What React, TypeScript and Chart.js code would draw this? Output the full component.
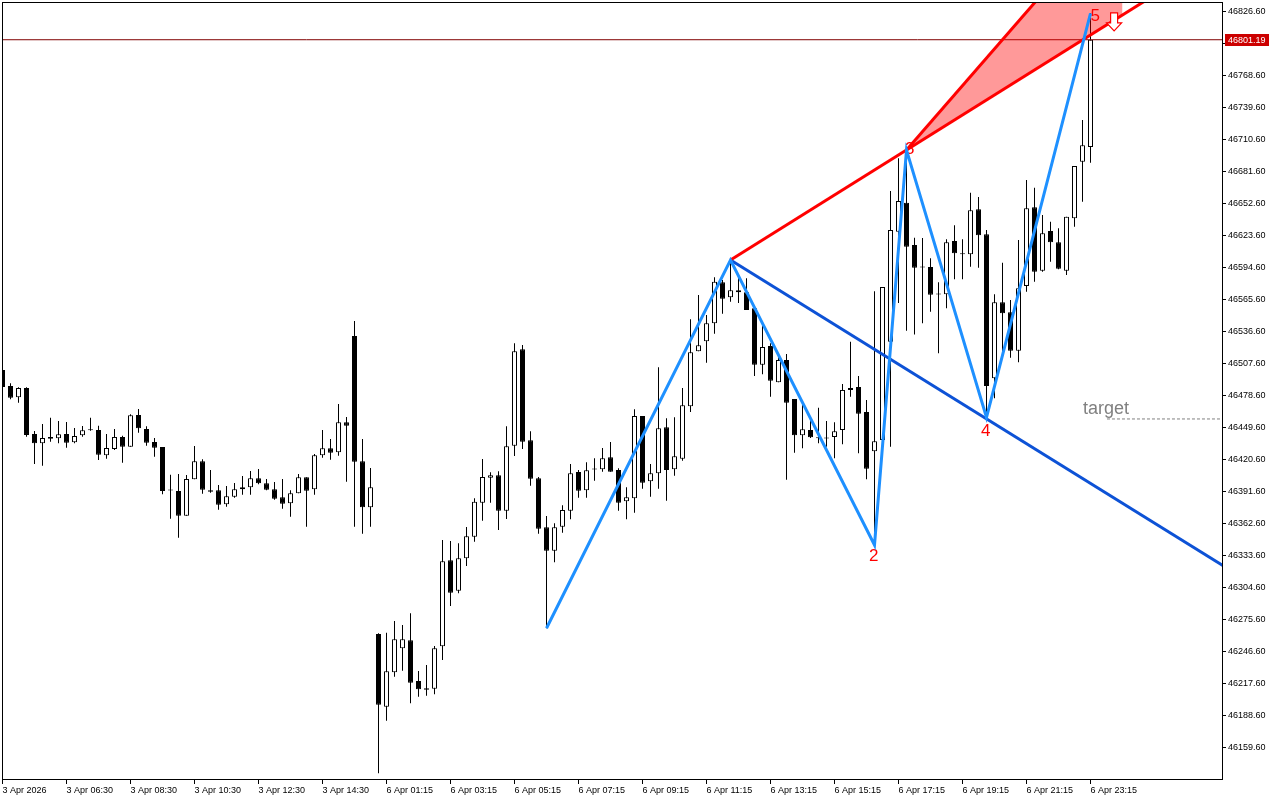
import { useEffect, useRef } from 'react';
import { Chart, registerables } from 'chart.js';

Chart.register(...registerables);

// ---- candle data (15-minute candles, index 0 = 3 Apr 04:30) ----
const opens = [
  46501.9, 46487.4, 46477.2, 46485.6, 46443.9, 46435.5, 46441.2, 46440.0, 46443.9, 46436.4,
  46442.7, 46447.5, 46447.5, 46424.6, 46430.3, 46441.2, 46432.4, 46461.1, 46448.4, 46436.6,
  46432.1, 46392.9, 46392.2, 46369.8, 46402.8, 46419.1, 46392.9, 46392.9, 46380.2, 46387.1,
  46393.8, 46395.6, 46403.7, 46399.2, 46393.8, 46386.5, 46381.1, 46390.2, 46404.6, 46393.8,
  46424.6, 46430.9, 46427.3, 46454.5, 46532.7, 46419.1, 46377.5, 46262.6, 46196.7, 46227.9,
  46249.7, 46256.9, 46220.0, 46213.4, 46213.1, 46251.5, 46329.4, 46301.9, 46331.2, 46350.8,
  46381.6, 46404.3, 46406.5, 46374.4, 46433.3, 46520.6, 46438.2, 46403.7, 46359.3, 46338.1,
  46359.9, 46374.4, 46409.5, 46392.9, 46411.9, 46411.9, 46422.8, 46411.3, 46382.9, 46385.6,
  46460.2, 46401.0, 46408.3, 46450.0, 46411.9, 46421.5, 46469.0, 46518.8, 46527.9, 46544.2,
  46581.4, 46567.8, 46574.1, 46572.3, 46557.8, 46506.7, 46523.6, 46490.7, 46511.0, 46475.6,
  46442.7, 46447.5, 46440.9, 46440.0, 46441.2, 46447.5, 46483.8, 46486.5, 46463.8, 46428.2,
  46438.5, 46527.5, 46627.2, 46653.5, 46615.2, 46595.2, 46595.2, 46570.5, 46570.5, 46618.8,
  46607.0, 46606.7, 46647.5, 46624.9, 46494.4, 46563.2, 46554.2, 46519.4, 46578.0, 46649.3,
  46591.9, 46627.9, 46617.6, 46591.9, 46639.4, 46690.7, 46704.0,
];
const highs = [
  46503.7, 46489.8, 46486.2, 46486.2, 46446.6, 46453.0, 46458.7, 46455.7, 46454.8, 46449.3,
  46451.1, 46458.7, 46451.4, 46443.9, 46448.4, 46442.4, 46461.7, 46466.5, 46450.9, 46440.3,
  46432.1, 46407.0, 46407.6, 46406.7, 46433.0, 46421.0, 46411.3, 46397.7, 46396.8, 46399.5,
  46405.8, 46410.4, 46412.2, 46403.1, 46400.4, 46403.1, 46392.9, 46407.6, 46404.6, 46425.8,
  46447.5, 46439.4, 46471.1, 46459.3, 46546.3, 46439.4, 46413.1, 46263.3, 46263.8, 46274.4,
  46270.8, 46281.4, 46229.1, 46234.5, 46251.8, 46347.8, 46346.9, 46344.8, 46359.6, 46385.6,
  46421.2, 46409.2, 46410.1, 46450.9, 46526.1, 46524.5, 46446.3, 46404.9, 46369.6, 46363.0,
  46379.3, 46416.7, 46411.3, 46418.2, 46421.9, 46431.2, 46436.6, 46412.8, 46395.6, 46466.3,
  46460.2, 46416.7, 46504.3, 46458.1, 46459.0, 46485.6, 46547.8, 46569.9, 46551.7, 46585.9,
  46583.5, 46601.6, 46586.4, 46585.0, 46557.8, 46541.8, 46526.1, 46513.9, 46516.4, 46475.6,
  46471.1, 46456.6, 46467.7, 46455.7, 46454.5, 46489.2, 46527.5, 46496.5, 46474.7, 46573.2,
  46577.1, 46664.1, 46693.7, 46701.3, 46621.8, 46621.5, 46603.1, 46581.4, 46620.3, 46633.0,
  46620.3, 46662.6, 46658.7, 46628.8, 46570.5, 46599.1, 46565.3, 46619.7, 46674.1, 46667.1,
  46642.4, 46636.3, 46630.3, 46640.8, 46686.8, 46728.5, 46825.2,
];
const lows = [
  46483.8, 46475.3, 46472.3, 46441.4, 46416.7, 46415.2, 46436.9, 46435.5, 46431.5, 46435.5,
  46441.4, 46446.9, 46420.3, 46421.5, 46429.4, 46417.9, 46432.4, 46445.1, 46433.3, 46423.3,
  46389.2, 46367.1, 46349.9, 46369.8, 46402.8, 46389.8, 46390.7, 46375.3, 46378.0, 46386.2,
  46388.9, 46388.9, 46398.3, 46392.9, 46384.3, 46376.2, 46368.9, 46390.2, 46359.9, 46388.9,
  46422.4, 46420.6, 46424.2, 46400.7, 46359.9, 46353.5, 46359.9, 46136.4, 46184.1, 46223.9,
  46229.4, 46199.8, 46205.8, 46206.7, 46208.0, 46239.1, 46288.0, 46299.5, 46324.3, 46346.3,
  46365.3, 46381.6, 46356.9, 46366.9, 46423.9, 46430.3, 46397.0, 46353.5, 46267.8, 46327.6,
  46354.4, 46366.6, 46386.2, 46386.2, 46401.6, 46409.7, 46409.7, 46374.4, 46366.6, 46372.6,
  46394.3, 46387.1, 46394.3, 46383.4, 46406.1, 46419.7, 46463.8, 46518.8, 46508.5, 46534.8,
  46552.9, 46563.8, 46562.6, 46556.3, 46496.5, 46498.0, 46477.7, 46490.7, 46402.5, 46426.9,
  46430.9, 46440.3, 46435.5, 46432.4, 46421.9, 46434.6, 46477.7, 46426.4, 46402.8, 46343.3,
  46438.5, 46432.4, 46562.6, 46537.5, 46534.1, 46544.2, 46554.7, 46517.0, 46557.8, 46584.1,
  46584.1, 46595.5, 46594.6, 46459.6, 46476.2, 46512.5, 46513.0, 46508.9, 46572.8, 46581.9,
  46591.0, 46600.0, 46593.2, 46588.0, 46631.8, 46654.4, 46689.8,
];
const closes = [
  46486.5, 46476.8, 46485.6, 46443.0, 46435.5, 46440.3, 46439.6, 46443.6, 46436.0, 46442.1,
  46447.2, 46447.2, 46425.1, 46431.2, 46441.2, 46432.4, 46460.8, 46449.1, 46436.0, 46431.5,
  46392.2, 46392.6, 46369.8, 46403.1, 46419.1, 46393.4, 46391.6, 46379.8, 46387.4, 46393.8,
  46395.6, 46403.7, 46399.2, 46393.4, 46385.3, 46380.7, 46390.2, 46404.6, 46392.5, 46424.6,
  46430.9, 46426.9, 46454.5, 46451.4, 46418.8, 46377.5, 46395.6, 46198.6, 46228.8, 46257.8,
  46257.8, 46218.5, 46212.5, 46212.2, 46249.7, 46328.5, 46300.1, 46331.2, 46351.2, 46382.5,
  46404.9, 46406.5, 46374.4, 46432.7, 46518.8, 46436.9, 46403.4, 46358.1, 46338.1, 46359.3,
  46375.0, 46408.3, 46392.5, 46411.0, 46411.7, 46421.9, 46409.7, 46381.6, 46386.5, 46460.2,
  46399.8, 46408.3, 46449.1, 46411.3, 46423.7, 46469.9, 46517.9, 46524.3, 46544.2, 46581.9,
  46566.5, 46574.1, 46572.3, 46556.3, 46506.7, 46522.7, 46492.2, 46511.0, 46472.3, 46442.7,
  46448.1, 46440.9, 46440.0, 46439.8, 46446.3, 46483.8, 46485.6, 46462.3, 46412.4, 46437.3,
  46577.1, 46628.8, 46655.0, 46613.6, 46594.6, 46594.8, 46570.1, 46570.2, 46617.6, 46607.7,
  46606.8, 46646.6, 46624.0, 46487.4, 46563.2, 46553.3, 46519.4, 46575.9, 46648.4, 46591.0,
  46625.8, 46617.6, 46593.7, 46640.8, 46686.8, 46705.5, 46801.19,
];

// ---- axis ticks ----
const xTickIdx = [0, 8, 16, 24, 32, 40, 48, 56, 64, 72, 80, 88, 96, 104, 112, 120, 128, 136];
const xTickLabels = [
  '3 Apr 2026', '3 Apr 06:30', '3 Apr 08:30', '3 Apr 10:30', '3 Apr 12:30', '3 Apr 14:30',
  '6 Apr 01:15', '6 Apr 03:15', '6 Apr 05:15', '6 Apr 07:15', '6 Apr 09:15', '6 Apr 11:15',
  '6 Apr 13:15', '6 Apr 15:15', '6 Apr 17:15', '6 Apr 19:15', '6 Apr 21:15', '6 Apr 23:15',
];
const yTicks = [
  46159.6, 46188.6, 46217.6, 46246.6, 46275.6, 46304.6, 46333.6, 46362.6, 46391.6, 46420.6,
  46449.6, 46478.6, 46507.6, 46536.6, 46565.6, 46594.6, 46623.6, 46652.6, 46681.6, 46710.6,
  46739.6, 46768.6, 46797.6, 46826.6,
];
const xMin = -0.0625;
const xMax = 152.4375;
const yMin = 46131.2;
const yMax = 46835.4;

// ---- overlays ----
const zigX = [68, 91, 109, 113, 123, 136];
const zigY = [46267.8, 46601.6, 46343.3, 46701.3, 46459.0, 46825.2];
const redShallowX = [91, 148];
const redShallowY = [46601.6, 46859.9];
const redSteepX = [113, 135];
const redSteepY = [46701.3, 46884.6];
const fillTopX = [113, 140];
const fillTopY = [46701.3, 46926.2];
const fillBotX = [113, 140];
const fillBotY = [46701.3, 46823.7];
const trendX = [91, 155];
const trendY = [46601.6, 46313.6];
const lastPrice = 46801.19;
const targetPrice = 46457.5;
const targetX = [138.06, 160];

const waveLabels = ['2', '3', '4', '5'];
const waveLabelX = [108.9, 113.4, 122.9, 136.6];
const waveLabelY = [46333.3, 46702.2, 46446.6, 46822.7];
const targetTextX = 135.06;
const targetTextY = 46466.5;
const arrowX = 138.95;
const arrowY = 46817.3;

const pts = (xs: number[], ys: number[]) => xs.map((x, i) => ({ x, y: ys[i] }));

export default function App() {
  const ref = useRef<HTMLCanvasElement>(null);

  useEffect(() => {
    if (!ref.current) return;
    const idx = opens.map((_, i) => i);
    const wickData = idx.map((i) => ({ x: i, y: [lows[i], highs[i]] }));
    const bodyData = idx.map((i) => ({ x: i, y: [opens[i], closes[i]] }));
    const bodyColors = idx.map((i) => (closes[i] >= opens[i] ? '#ffffff' : '#000000'));
    const xLabelMap: Record<number, string> = {};
    xTickIdx.forEach((v, i) => (xLabelMap[v] = xTickLabels[i]));

    const annot = {
      id: 'annot',
      beforeDatasetsDraw(chart: any) {
        const { ctx, scales } = chart;
        const sx = scales.x, sy = scales.y;
        ctx.save();
        ctx.font = '17px "Liberation Sans", Arial, sans-serif';
        ctx.fillStyle = '#ff0000';
        ctx.textAlign = 'center';
        ctx.textBaseline = 'middle';
        waveLabels.forEach((t, i) => {
          ctx.fillText(t, sx.getPixelForValue(waveLabelX[i]), sy.getPixelForValue(waveLabelY[i]));
        });
        ctx.restore();
      },
      afterDatasetsDraw(chart: any) {
        const { ctx, scales } = chart;
        const sx = scales.x, sy = scales.y;
        ctx.save();
        ctx.font = '18px "Liberation Sans", Arial, sans-serif';
        ctx.fillStyle = '#808080';
        ctx.textAlign = 'left';
        ctx.textBaseline = 'middle';
        ctx.fillText('target', sx.getPixelForValue(targetTextX), sy.getPixelForValue(targetTextY));
        // sell arrow marker (outlined down arrow)
        const cx = sx.getPixelForValue(arrowX);
        const cy = sy.getPixelForValue(arrowY);
        ctx.beginPath();
        ctx.moveTo(cx - 3.5, cy - 9);
        ctx.lineTo(cx + 3.5, cy - 9);
        ctx.lineTo(cx + 3.5, cy + 1);
        ctx.lineTo(cx + 7.5, cy + 1);
        ctx.lineTo(cx, cy + 9);
        ctx.lineTo(cx - 7.5, cy + 1);
        ctx.lineTo(cx - 3.5, cy + 1);
        ctx.closePath();
        ctx.fillStyle = '#ffffff';
        ctx.fill();
        ctx.strokeStyle = '#ff0000';
        ctx.lineWidth = 1.2;
        ctx.stroke();
        ctx.restore();
      },
      afterDraw(chart: any) {
        const { ctx, chartArea, scales } = chart;
        const sy = scales.y;
        ctx.save();
        ctx.strokeStyle = '#000';
        ctx.lineWidth = 1;
        ctx.strokeRect(
          chartArea.left + 0.5,
          chartArea.top + 0.5,
          chartArea.right - chartArea.left,
          chartArea.bottom - chartArea.top
        );
        const py = sy.getPixelForValue(lastPrice);
        ctx.fillStyle = '#cc0000';
        ctx.fillRect(chartArea.right + 3, Math.round(py) - 6, 44, 12);
        ctx.fillStyle = '#ffffff';
        ctx.font = '9px "Liberation Sans", Arial, sans-serif';
        ctx.textAlign = 'left';
        ctx.textBaseline = 'middle';
        ctx.fillText(lastPrice.toFixed(2), chartArea.right + 6, Math.round(py) + 0.5);
        ctx.restore();
      },
    };

    const lineBase = {
      type: 'line' as const,
      pointRadius: 0,
      pointHoverRadius: 0,
      fill: false,
      tension: 0,
    };

    const chart = new Chart(ref.current, {
      type: 'bar',
      data: {
        datasets: [
          { ...lineBase, label: 'zigzag', data: pts(zigX, zigY), borderColor: '#1e90ff', borderWidth: 3, order: 1 } as any,
          { ...lineBase, label: 'red1', data: pts(redShallowX, redShallowY), borderColor: '#ff0000', borderWidth: 3, order: 2 } as any,
          { ...lineBase, label: 'red2', data: pts(redSteepX, redSteepY), borderColor: '#ff0000', borderWidth: 3, order: 2 } as any,
          { ...lineBase, label: 'trend', data: pts(trendX, trendY), borderColor: '#0d52d6', borderWidth: 3, order: 3 } as any,
          { ...lineBase, label: 'fillTop', data: pts(fillTopX, fillTopY), borderWidth: 0, borderColor: 'rgba(0,0,0,0)', fill: 5, backgroundColor: 'rgba(255,0,0,0.4)', order: 4 } as any,
          { ...lineBase, label: 'fillBot', data: pts(fillBotX, fillBotY), borderWidth: 0, borderColor: 'rgba(0,0,0,0)', order: 4 } as any,
          { ...lineBase, label: 'price', data: pts([-1, 160], [lastPrice, lastPrice]), borderColor: '#800000', borderWidth: 1, order: 5 } as any,
          { ...lineBase, label: 'target', data: pts(targetX, [targetPrice, targetPrice]), borderColor: '#808080', borderWidth: 1, borderDash: [3, 2], order: 5 } as any,
          {
            type: 'bar',
            label: 'body',
            data: bodyData as any,
            backgroundColor: bodyColors,
            borderColor: '#000000',
            borderWidth: 1,
            borderSkipped: false,
            barThickness: 5,
            minBarLength: 1,
            grouped: false,
            inflateAmount: 0,
            order: 10,
          } as any,
          {
            type: 'bar',
            label: 'wick',
            data: wickData as any,
            backgroundColor: '#000000',
            borderWidth: 0,
            borderSkipped: false,
            barThickness: 1,
            minBarLength: 1,
            grouped: false,
            inflateAmount: 0,
            order: 11,
          } as any,
        ],
      },
      options: {
        animation: false,
        responsive: false,
        maintainAspectRatio: false,
        events: [],
        layout: { padding: { left: 2, top: 2, right: 0, bottom: 0 } },
        plugins: {
          legend: { display: false },
          tooltip: { enabled: false },
        },
        scales: {
          x: {
            type: 'linear',
            min: xMin,
            max: xMax,
            offset: false,
            grid: { display: true, drawOnChartArea: false, drawTicks: true, tickLength: 5, color: '#000', offset: false },
            border: { display: false },
            afterBuildTicks: (scale: any) => {
              scale.ticks = xTickIdx.map((v) => ({ value: v }));
            },
            afterFit: (scale: any) => {
              scale.height = 21;
              scale.paddingLeft = 0;
              scale.paddingRight = 0;
            },
            ticks: {
              autoSkip: false,
              maxRotation: 0,
              minRotation: 0,
              align: 'start',
              padding: 1,
              color: '#000',
              font: { family: '"Liberation Sans", Arial, sans-serif', size: 9 },
              callback: (v: any) => xLabelMap[v as number] ?? '',
            },
          } as any,
          y: {
            type: 'linear',
            position: 'right',
            min: yMin,
            max: yMax,
            grid: { display: true, drawOnChartArea: false, drawTicks: true, tickLength: 4, color: '#000' },
            border: { display: false },
            afterBuildTicks: (scale: any) => {
              scale.ticks = yTicks.map((v) => ({ value: v }));
            },
            afterFit: (scale: any) => {
              scale.width = 58;
              scale.paddingTop = 0;
              scale.paddingBottom = 0;
            },
            ticks: {
              autoSkip: false,
              padding: 2,
              color: '#000',
              font: { family: '"Liberation Sans", Arial, sans-serif', size: 9 },
              callback: (v: any) => Number(v).toFixed(2),
            },
          } as any,
        },
      },
      plugins: [annot],
    });
    return () => chart.destroy();
  }, []);

  return (
    <div style={{ position: 'fixed', left: 0, top: 0, width: 1280, height: 800, background: '#fff' }}>
      <canvas ref={ref} width={1280} height={800} style={{ display: 'block' }} />
    </div>
  );
}
